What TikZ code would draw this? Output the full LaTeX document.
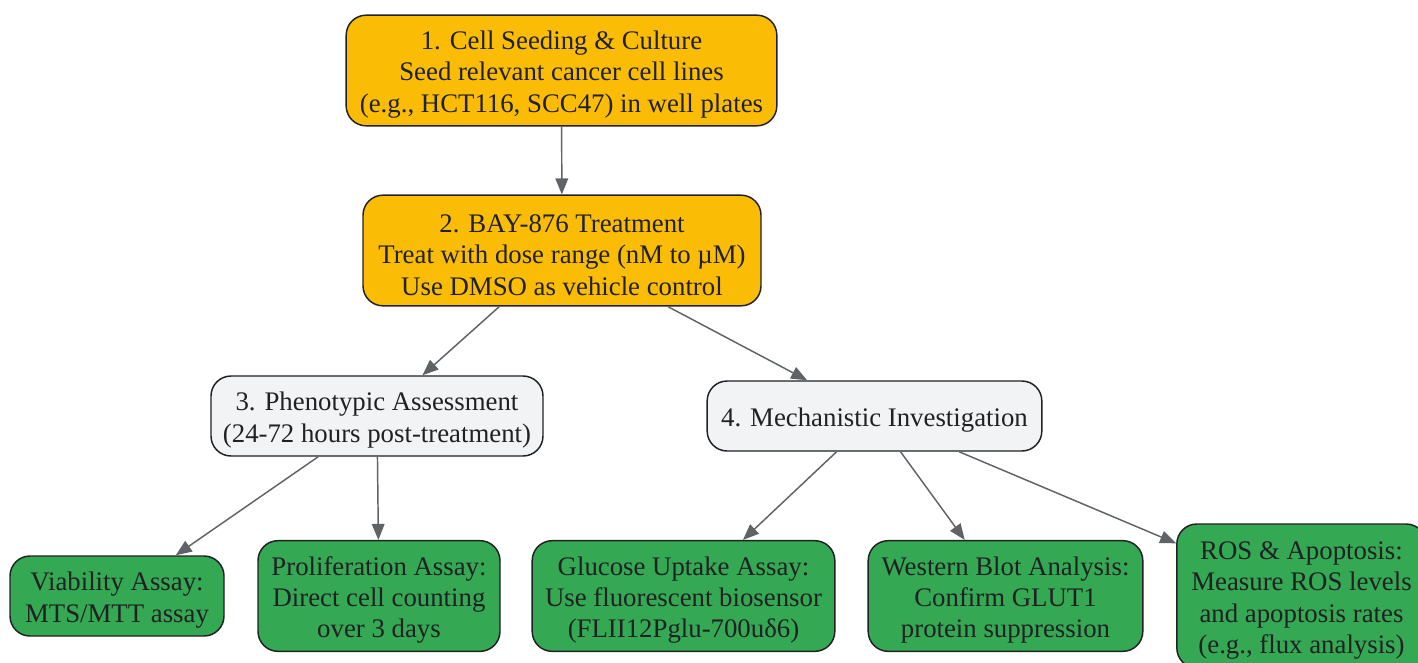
\documentclass[tikz,border=0pt]{standalone}
\usepackage{fontspec}
\setmainfont{Liberation Serif}
\usetikzlibrary{arrows.meta}

\definecolor{stepgold}{HTML}{FBBC05}
\definecolor{stepgrey}{HTML}{F1F3F4}
\definecolor{stepgreen}{HTML}{34A853}
\definecolor{edgegrey}{HTML}{5F6368}
\definecolor{inkdark}{HTML}{202124}

% small lift so the lines sit a bit lower in their boxes
\newcommand{\toplift}{\rule{0pt}{20pt}}

\tikzset{
  box/.style={draw=inkdark, line width=1.1pt, rounded corners=15pt, align=center,
    text=inkdark, font=\fontsize{20.1}{23.5}\selectfont, inner sep=3pt},
  goldbox/.style={box, fill=stepgold},
  greybox/.style={box, fill=stepgrey},
  greenbox/.style={box, fill=stepgreen},
  flow/.style={draw=edgegrey, line width=1.1pt, -{Triangle[length=12pt,width=9.5pt]}}
}

\begin{document}
\begin{tikzpicture}[x=0.75pt, y=-0.75pt]

		\useasboundingbox (0,0) rectangle (1418,662);

		% steps
		\node [goldbox, minimum width=323pt, minimum height=83pt] (seed) at (561.5, 70.5)
			{\toplift 1. Cell Seeding \& Culture\\Seed relevant cancer cell lines\\(e.g., HCT116, SCC47) in well plates};
		\node [goldbox, minimum width=298.5pt, minimum height=83pt] (treat) at (562, 250.5)
			{\toplift 2. BAY-876 Treatment\\Treat with dose range (nM to µM)\\Use DMSO as vehicle control};

		\node [greybox, minimum width=249pt, minimum height=60pt] (pheno) at (377, 416)
			{\toplift 3. Phenotypic Assessment\\(24-72 hours post-treatment)};
		\node [greybox, minimum width=251pt, minimum height=52.5pt] (mech) at (874.5, 416)
			{\toplift 4. Mechanistic Investigation};

		% assays
		\node [greenbox, minimum width=160.5pt, minimum height=60pt] (viab) at (117, 596)
			{\toplift Viability Assay:\\MTS/MTT assay};
		\node [greenbox, minimum width=181.5pt, minimum height=83pt] (prolif) at (379, 596)
			{\toplift Proliferation Assay:\\Direct cell counting\\over 3 days};
		\node [greenbox, minimum width=227pt, minimum height=83pt] (gluc) at (683.5, 596)
			{\toplift Glucose Uptake Assay:\\Use fluorescent biosensor\\(FLII12Pglu-700uδ6)};
		\node [greenbox, minimum width=206pt, minimum height=83pt] (blot) at (1005.5, 596)
			{\toplift Western Blot Analysis:\\Confirm GLUT1\\protein suppression};
		\node [greenbox, minimum width=187pt, minimum height=108pt] (ros) at (1301.5, 596)
			{\toplift ROS \& Apoptosis:\\Measure ROS levels\\and apoptosis rates\\(e.g., flux analysis)};

		\draw [flow] (seed) -- (treat);
		\draw [flow] (treat) -- (pheno);
		\draw [flow] (treat) -- (mech);

		\draw [flow] (pheno) -- (viab);
		\draw [flow] (pheno) -- (prolif);

		\draw [flow] (mech) -- (gluc);
		\draw [flow] (mech) -- (blot);
		\draw [flow] (mech) -- (ros);
\end{tikzpicture}
\end{document}
